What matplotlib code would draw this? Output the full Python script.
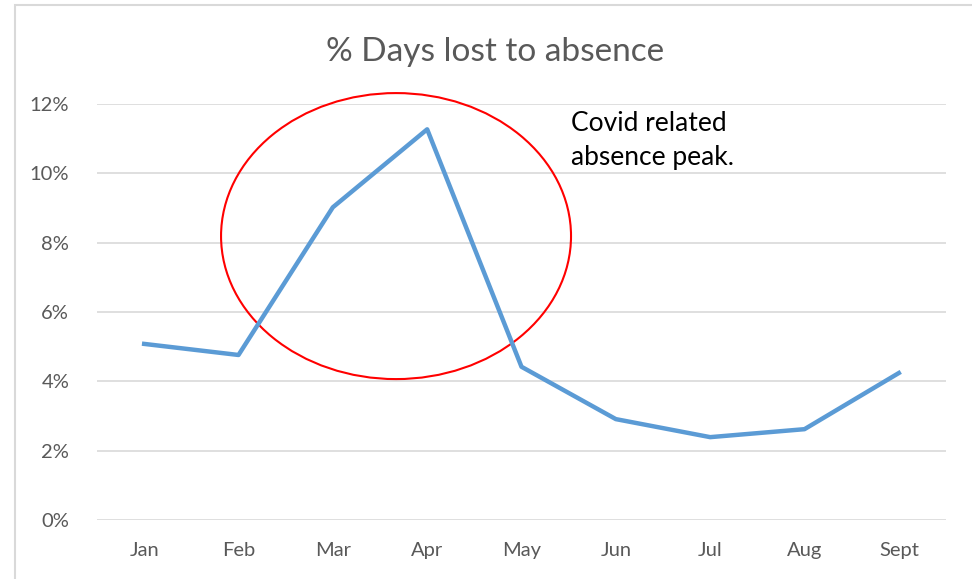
import matplotlib
matplotlib.use("Agg")
from matplotlib import pyplot as plt
from matplotlib.patches import Ellipse, Rectangle

months = ['Jan', 'Feb', 'Mar', 'Apr', 'May', 'Jun', 'Jul', 'Aug', 'Sept']
days_lost = [5.08, 4.76, 9.02, 11.27, 4.42, 2.91, 2.39, 2.62, 4.24]
y_ticks = [0, 2, 4, 6, 8, 10, 12]

plt.rcParams['font.family'] = ['Lato', 'DejaVu Sans']

fig = plt.figure(figsize=(9.72, 5.79), dpi=100)
ax = fig.add_axes([97 / 972, 1 - 520 / 579, 849 / 972, 416 / 579])

# outer chart border
fig.patches.append(Rectangle((15 / 972, -0.05), 1.0, 1 - 5 / 579 + 0.05,
                             transform=fig.transFigure, fill=False,
                             edgecolor='#D9D9D9', linewidth=1.5))

x = list(range(len(months)))
ax.plot(x, days_lost, color='#5B9BD5', linewidth=3.2, solid_joinstyle='round')

ax.set_xlim(-0.5, len(months) - 0.5)
ax.set_ylim(0, 12)
ax.set_yticks(y_ticks)
ax.set_yticklabels([f'{t}%' for t in y_ticks])
ax.set_xticks(x)
ax.set_xticklabels(months)
ax.tick_params(length=0, labelsize=14.5, colors='#595959', pad=20)
ax.tick_params(axis='x', pad=16)
ax.grid(axis='y', color='#D9D9D9', linewidth=1.2)
ax.set_axisbelow(True)
for s in ax.spines.values():
    s.set_visible(False)

ax.add_patch(Ellipse((2.67, 8.19), 3.71, 8.25, fill=False,
                     edgecolor='#FF0000', linewidth=1.5, clip_on=False))
ax.text(4.53, 11.8, 'Covid related\nabsence peak.', fontsize=19,
        color='black', va='top', ha='left', linespacing=1.45)

fig.text(0.509, 1 - 52 / 579, '% Days lost to absence', fontsize=24,
         color='#595959', ha='center', va='center')

fig.savefig('out.png', dpi=100)
